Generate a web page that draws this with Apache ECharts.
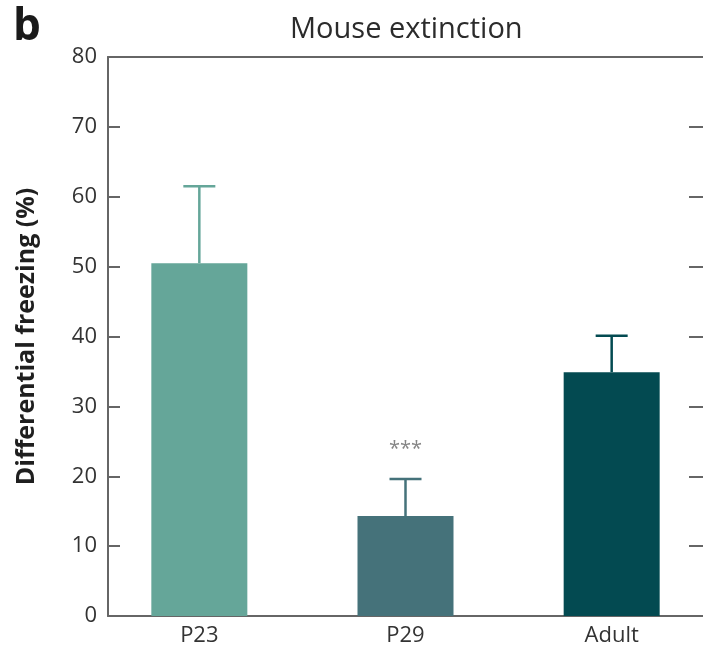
<!DOCTYPE html>
<html>
<head>
<meta charset="utf-8">
<script src="https://cdn.jsdelivr.net/npm/echarts@6/dist/echarts.min.js"></script>
<style>html,body{margin:0;padding:0;background:#fff}#c{width:703px;height:653px}</style>
</head>
<body>
<div id="c"></div>
<script>
const categories = ['P23', 'P29', 'Adult'];
const meanValues = [50.5, 14.3, 34.9];
const errorUpper = [61.5, 19.6, 40.1];
const significance = ['', '***', ''];
const significanceY = [0, 23.9, 0];
const yMin = 0, yMax = 80, yInterval = 10;

const barColors = ['#65a699', '#45727a', '#034a51'];
const FONT = 'Open Sans';

const chart = echarts.init(document.getElementById('c'), null, {renderer: 'canvas'});

const barData = meanValues.map((v, i) => ({value: [i, v], itemStyle: {color: barColors[i]}}));
const errData = meanValues.map((v, i) => [i, v, errorUpper[i]]);
const sigData = significance.map((s, i) => ({value: [i, significanceY[i]], name: s})).filter(d => d.name);

const axisStroke = {color: '#666', width: 2};

const option = {
  backgroundColor: '#fff',
  animation: false,
  title: [
    {text: 'b', left: 8, top: 0, textStyle: {fontFamily: FONT, fontSize: 44, fontWeight: 'bold', color: '#1a1a1a'}},
    {text: 'Mouse extinction', left: 285, top: 10, textStyle: {fontFamily: FONT, fontSize: 29, fontWeight: 'normal', color: '#2b2b2b'}}
  ],
  grid: {left: 108, right: -4, top: 57, bottom: 37, containLabel: false},
  xAxis: [
    {
      type: 'value', min: -0.443, max: 2.443, position: 'bottom',
      axisLine: {show: true, onZero: false, lineStyle: axisStroke},
      axisTick: {show: false}, splitLine: {show: false},
      axisLabel: {customValues: [0, 1, 2], formatter: v => categories[Math.round(v)], fontFamily: FONT, fontSize: 22, color: '#333', margin: 9}
    },
    {
      type: 'value', min: -0.443, max: 2.443, position: 'top',
      axisLine: {show: true, onZero: false, lineStyle: axisStroke},
      axisTick: {show: false}, splitLine: {show: false}, axisLabel: {show: false}
    }
  ],
  yAxis: [
    {
      type: 'value', min: yMin, max: yMax, interval: yInterval, position: 'left',
      name: 'Differential freezing (%)', nameLocation: 'middle', nameGap: 69, nameRotate: 90,
      nameTextStyle: {fontFamily: FONT, fontSize: 25, fontWeight: 'bold', color: '#1f1f1f'},
      axisLine: {show: true, onZero: false, lineStyle: axisStroke},
      axisTick: {show: true, inside: true, length: 12, lineStyle: axisStroke},
      splitLine: {show: false},
      axisLabel: {fontFamily: FONT, fontSize: 22, color: '#333', margin: 11}
    },
    {
      type: 'value', min: yMin, max: yMax, interval: yInterval, position: 'right',
      axisLine: {show: false, onZero: false},
      axisTick: {show: true, inside: true, length: 14, lineStyle: axisStroke},
      splitLine: {show: false}, axisLabel: {show: false}
    }
  ],
  series: [
    {
      type: 'bar', xAxisIndex: 0, yAxisIndex: 0, barWidth: 96, data: barData, z: 2
    },
    {
      type: 'custom', xAxisIndex: 0, yAxisIndex: 0, data: errData, z: 3,
      renderItem: (params, api) => {
        const x = api.value(0);
        const top = api.coord([x, api.value(2)]);
        const base = api.coord([x, api.value(1)]);
        const c = barColors[params.dataIndex];
        const half = 16;
        return {
          type: 'group',
          children: [
            {type: 'line', shape: {x1: top[0], y1: base[1], x2: top[0], y2: top[1]}, style: {stroke: c, lineWidth: 2.5}},
            {type: 'line', shape: {x1: top[0] - half, y1: top[1], x2: top[0] + half, y2: top[1]}, style: {stroke: c, lineWidth: 2.5}}
          ]
        };
      }
    },
    {
      type: 'scatter', xAxisIndex: 0, yAxisIndex: 0, symbolSize: 0, data: sigData,
      label: {show: true, position: 'inside', formatter: p => p.name, fontFamily: FONT, fontSize: 20, color: '#666'}
    }
  ]
};
chart.setOption(option);
</script>
</body>
</html>
